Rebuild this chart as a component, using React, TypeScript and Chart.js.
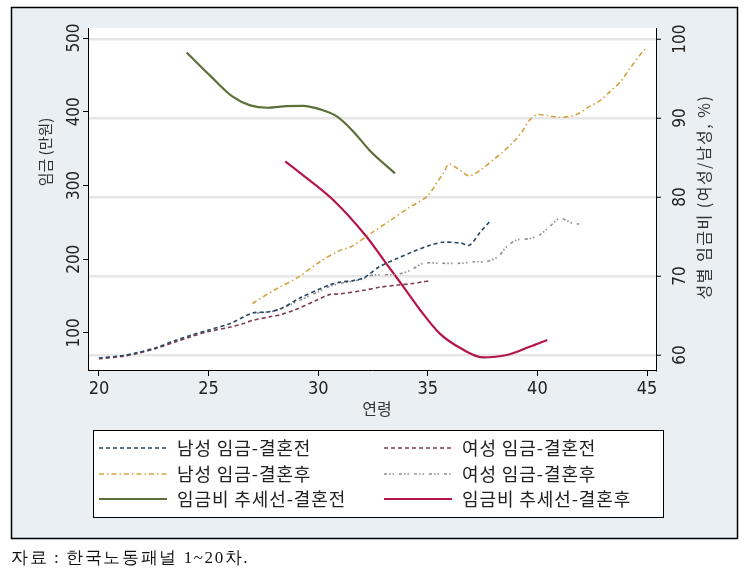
import React, { useEffect, useRef } from "react";
import { Chart, registerables } from "chart.js";

Chart.register(...registerables);

// ---- tick values ----
const xTicks = [20, 25, 30, 35, 40, 45];
const wageTicks = [100, 200, 300, 400, 500];
const ratioTicks = [60, 70, 80, 90, 100];

// ---- series ----
const seriesLabels = [
  "남성 임금-결혼전",
  "여성 임금-결혼전",
  "남성 임금-결혼후",
  "여성 임금-결혼후",
  "임금비 추세선-결혼전",
  "임금비 추세선-결혼후",
];

const maleBeforeAge = [20, 21, 21.7, 22.6, 23.5, 24.2, 25, 26, 27, 27.7, 28.3, 29.2, 30.1, 30.5, 31, 31.6, 32.1, 32.8, 33.6, 34.3, 35.1, 35.7, 36.5, 36.9, 37.4, 37.85];
const maleBeforeWage = [66, 69, 73, 80, 90, 97, 104, 113, 127, 128.5, 133, 148, 160, 165, 169, 171, 175, 190, 201, 210, 219, 223, 222, 219, 237, 252];

const femaleBeforeAge = [20, 21, 21.7, 22.6, 23.5, 24.2, 25, 26, 26.6, 27, 27.8, 28.3, 28.9, 29.9, 30.5, 31, 32.1, 32.8, 33.6, 34.3, 34.8, 35.05];
const femaleBeforeWage = [65, 68, 72, 79, 88, 95, 102, 108, 113, 117, 122, 125, 131, 144, 152, 153, 158, 162, 165, 167, 169.5, 170.5];

const maleAfterAge = [27, 28.1, 29, 30.1, 31, 31.5, 32.4, 33.3, 34.2, 34.5, 35, 35.35, 35.7, 35.95, 36.25, 36.55, 36.9, 37.4, 38, 38.45, 38.9, 39.3, 39.65, 40, 40.4, 41, 41.5, 41.9, 42.3, 42.85, 43.3, 43.8, 44.2, 44.85, 45];
const maleAfterWage = [140, 160, 174, 197, 212, 217, 235, 253, 271, 276, 286, 301, 316, 329, 325, 319, 313, 321, 335, 346, 359, 373, 389, 396, 395, 392.5, 394, 398, 406, 415, 427, 441, 458, 483, 486];

const femaleAfterAge = [27.2, 28, 29, 30, 30.5, 31, 31.5, 32, 32.5, 33.6, 34.2, 34.8, 35.6, 36.5, 37.1, 37.7, 38.2, 38.6, 39.05, 39.65, 40.1, 40.55, 41, 41.3, 41.65, 41.9];
const femaleAfterWage = [127, 130, 142, 156, 163, 167, 170, 173, 178.5, 179.5, 185, 194.5, 194.5, 194.5, 196.5, 197, 203.5, 217, 226, 228, 233, 244, 255.5, 253, 248, 248];

const trendBeforeAge = [24, 25.06, 26.1, 26.9, 27.7, 28.55, 29.3, 30.1, 30.85, 31.6, 32.35, 33.5];
const trendBeforeRatio = [98.3, 95.4, 92.7, 91.6, 91.3, 91.5, 91.55, 91.1, 90.2, 88.3, 85.9, 83.0];

const trendAfterAge = [28.5, 29.2, 30.7, 32.2, 33.1, 33.9, 34.65, 35.55, 36.5, 37.5, 38.6, 39.65, 40.45];
const trendAfterRatio = [84.5, 83.0, 79.6, 75.0, 71.6, 68.6, 65.7, 62.7, 60.85, 59.7, 60.0, 61.05, 61.9];

const axisTitleX = "연령";
const axisTitleLeft = "임금 (만원)";
const axisTitleRight = "성별 임금비 (여성/남성, %)";
const sourceNote = "자료 : 한국노동패널 1~20차.";

// ---- layout / style ----
const W = 750;
const H = 582;
const PLOT = { left: 88, right: 656, top: 28, bottom: 370 };
const FRAME = { x: 11, y: 7, w: 726, h: 531 };
const LEGEND = { x: 93, y: 430, w: 570, h: 87 };
const BG = "#e9eff3";
const NUM_FONT = "'Liberation Sans Narrow', 'DejaVu Sans Condensed', 'Arial Narrow', sans-serif";
const KR_FONT = "'Noto Sans CJK KR', 'Noto Sans', sans-serif";

function pts(xs: number[], ys: number[]) {
  return xs.map((x, i) => ({ x, y: ys[i] }));
}

const decorPlugin = {
  id: "decor",
  beforeDraw(chart: any) {
    const { ctx, chartArea } = chart;
    ctx.save();
    ctx.fillStyle = "#ffffff";
    ctx.fillRect(0, 0, W, H);
    ctx.fillStyle = BG;
    ctx.fillRect(FRAME.x, FRAME.y, FRAME.w, FRAME.h);
    ctx.strokeStyle = "#000";
    ctx.lineWidth = 1.5;
    ctx.strokeRect(FRAME.x + 0.5, FRAME.y + 0.5, FRAME.w, FRAME.h);
    ctx.fillStyle = "#ffffff";
    ctx.fillRect(chartArea.left, chartArea.top, chartArea.right - chartArea.left, chartArea.bottom - chartArea.top);
    ctx.restore();
  },
  afterDraw(chart: any) {
    const { ctx, chartArea } = chart;
    ctx.save();
    ctx.fillStyle = "#333";
    ctx.textAlign = "center";
    ctx.textBaseline = "middle";
    // x title
    ctx.font = `16px ${KR_FONT}`;
    ctx.fillText(axisTitleX, (chartArea.left + chartArea.right) / 2 + 5, 409);
    // left title
    ctx.save();
    ctx.translate(45, 152);
    ctx.rotate(-Math.PI / 2);
    ctx.font = `15px ${KR_FONT}`;
    ctx.fillText(axisTitleLeft, 0, 0);
    ctx.restore();
    // right title
    ctx.save();
    ctx.translate(704, 197);
    ctx.rotate(-Math.PI / 2);
    ctx.font = `16px ${KR_FONT}`;
    (ctx as any).letterSpacing = "1.5px";
    ctx.fillText(axisTitleRight, 0, 0);
    ctx.restore();

    // legend
    ctx.fillStyle = "#ffffff";
    ctx.fillRect(LEGEND.x, LEGEND.y, LEGEND.w, LEGEND.h);
    ctx.strokeStyle = "#000";
    ctx.lineWidth = 1;
    ctx.strokeRect(LEGEND.x + 0.5, LEGEND.y + 0.5, LEGEND.w, LEGEND.h);
    const colX = [LEGEND.x + 6, LEGEND.x + 291];
    const rowY = [448, 474, 499];
    chart.data.datasets.forEach((ds: any, i: number) => {
      const cx = colX[i % 2];
      const cy = rowY[Math.floor(i / 2)];
      ctx.save();
      ctx.strokeStyle = ds.borderColor;
      ctx.lineWidth = ds.borderWidth;
      ctx.setLineDash(ds.borderDash || []);
      ctx.beginPath();
      ctx.moveTo(cx, cy);
      ctx.lineTo(cx + 68, cy);
      ctx.stroke();
      ctx.restore();
      ctx.save();
      ctx.fillStyle = "#222";
      ctx.font = `18px ${KR_FONT}`;
      (ctx as any).letterSpacing = "0.9px";
      ctx.textAlign = "left";
      ctx.textBaseline = "middle";
      ctx.fillText(ds.label, cx + 78, cy);
      ctx.restore();
    });
    ctx.restore();
  },
};

export default function App() {
  const ref = useRef<HTMLCanvasElement>(null);
  useEffect(() => {
    if (!ref.current) return;
    const dashed = (label: string, xs: number[], ys: number[], color: string, dash: number[]) => ({
      label,
      data: pts(xs, ys),
      borderColor: color,
      backgroundColor: color,
      borderWidth: 1.6,
      borderDash: dash,
      pointRadius: 0,
      tension: 0.3,
      yAxisID: "y",
    });
    const chart = new Chart(ref.current, {
      type: "line",
      data: {
        datasets: [
          dashed(seriesLabels[0], maleBeforeAge, maleBeforeWage, "#284760", [4, 3]),
          dashed(seriesLabels[1], femaleBeforeAge, femaleBeforeWage, "#7d3a4f", [4, 3]),
          dashed(seriesLabels[2], maleAfterAge, maleAfterWage, "#d4a240", [5, 3, 1.5, 3]),
          dashed(seriesLabels[3], femaleAfterAge, femaleAfterWage, "#8e8e99", [3, 2, 1.5, 2, 1.5, 5]),
          {
            label: seriesLabels[4],
            data: pts(trendBeforeAge, trendBeforeRatio),
            borderColor: "#5d7038",
            backgroundColor: "#5d7038",
            borderWidth: 2.2,
            pointRadius: 0,
            cubicInterpolationMode: "monotone",
            yAxisID: "y1",
          },
          {
            label: seriesLabels[5],
            data: pts(trendAfterAge, trendAfterRatio),
            borderColor: "#b3164b",
            backgroundColor: "#b3164b",
            borderWidth: 2.2,
            pointRadius: 0,
            cubicInterpolationMode: "monotone",
            yAxisID: "y1",
          },
        ] as any,
      },
      options: {
        animation: false,
        responsive: false,
        devicePixelRatio: 1,
        layout: { padding: { left: 0, top: PLOT.top, right: W - PLOT.right - 60, bottom: H - PLOT.bottom - 30 } },
        plugins: { legend: { display: false }, tooltip: { enabled: false } },
        scales: {
          x: {
            type: "linear",
            min: 19.5,
            max: 45.41,
            afterBuildTicks: (s: any) => { s.ticks = xTicks.map((v) => ({ value: v })); },
            afterFit: (s: any) => { s.height = 30; },
            grid: { drawOnChartArea: false, tickLength: 6, tickColor: "#000", tickWidth: 1 },
            border: { color: "#000", width: 1 },
            ticks: { padding: 3, color: "#222", font: { family: NUM_FONT, size: 18 }, autoSkip: false, maxRotation: 0 },
          },
          y: {
            type: "linear",
            position: "left",
            min: 49.8,
            max: 513.6,
            afterBuildTicks: (s: any) => { s.ticks = wageTicks.map((v) => ({ value: v })); },
            afterFit: (s: any) => { s.width = PLOT.left; },
            grid: { drawOnChartArea: false, tickLength: 5, tickColor: "#000", tickWidth: 1 },
            border: { color: "#000", width: 1 },
            ticks: { minRotation: 90, maxRotation: 90, crossAlign: "center", padding: -6, color: "#222", font: { family: NUM_FONT, size: 17 }, autoSkip: false },
          },
          y1: {
            type: "linear",
            position: "right",
            min: 58.1,
            max: 101.4,
            afterBuildTicks: (s: any) => { s.ticks = ratioTicks.map((v) => ({ value: v })); },
            afterFit: (s: any) => { s.width = 60; },
            grid: { drawOnChartArea: true, color: "#e6e6e6", lineWidth: 2.5, tickLength: 5, tickColor: "#000", tickWidth: 1 },
            border: { color: "#000", width: 1 },
            ticks: { minRotation: 90, maxRotation: 90, crossAlign: "center", padding: 5, color: "#222", font: { family: NUM_FONT, size: 17 }, autoSkip: false },
          },
        },
      } as any,
      plugins: [decorPlugin],
    });
    return () => chart.destroy();
  }, []);

  return (
    <div style={{ position: "absolute", left: 0, top: 0, width: W, height: H, background: "#fff" }}>
      <canvas ref={ref} width={W} height={H} style={{ display: "block", width: W, height: H }} />
      <div style={{ position: "absolute", left: 11, top: 546, fontFamily: "serif", fontSize: 17, letterSpacing: "1.6px", color: "#111", whiteSpace: "nowrap" }}>
        {sourceNote}
      </div>
    </div>
  );
}
